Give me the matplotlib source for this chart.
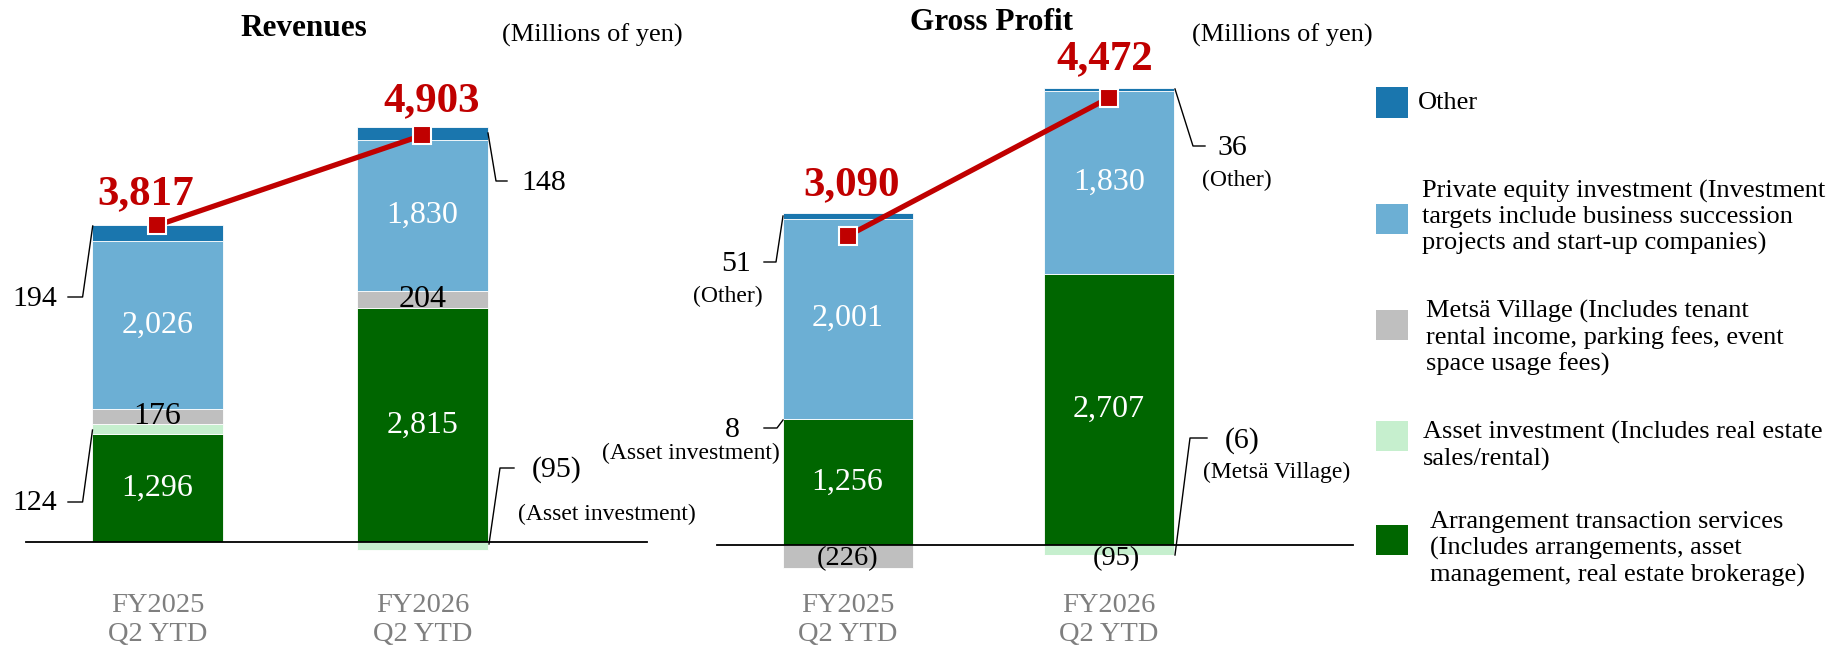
import matplotlib
matplotlib.use("Agg")
import matplotlib.pyplot as plt
from matplotlib.patches import Rectangle

plt.rcParams["font.family"] = ["Liberation Serif", "DejaVu Serif"]

# Data (millions of yen)
categories = ["FY2025\nQ2 YTD", "FY2026\nQ2 YTD"]
segment_names = ["Arrangement", "Asset investment", "Metsä Village", "Private equity", "Other"]

rev_arrangement = [1296, 2815]
rev_asset = [124, -95]
rev_metsa = [176, 204]
rev_pe = [2026, 1830]
rev_other = [194, 148]
rev_total = [3817, 4903]

gp_arrangement = [1256, 2707]
gp_asset = [8, -95]
gp_metsa = [-226, -6]
gp_pe = [2001, 1830]
gp_other = [51, 36]
gp_total = [3090, 4472]

legend_labels = [
    "Other",
    "Private equity investment (Investment\ntargets include business succession\nprojects and start-up companies)",
    "Metsä Village (Includes tenant\nrental income, parking fees, event\nspace usage fees)",
    "Asset investment (Includes real estate\nsales/rental)",
    "Arrangement transaction services\n(Includes arrangements, asset\nmanagement, real estate brokerage)",
]

# Colours
C_ARR = "#006600"
C_ASSET = "#C6EFCE"
C_METSA = "#BFBFBF"
C_PE = "#6CAFD4"
C_OTHER = "#1A76AE"
C_RED = "#C00000"
colors = [C_ARR, C_ASSET, C_METSA, C_PE, C_OTHER]
legend_colors = [C_OTHER, C_PE, C_METSA, C_ASSET, C_ARR]

W, H = 1829, 651
fig = plt.figure(figsize=(W / 100, H / 100), dpi=100)


def fmt(v):
    return f"{v:,}" if v >= 0 else f"({-v:,})"


class Panel:
    # maps reference pixels to data units for one chart
    def __init__(self, left, width, c0, step, base, scale, bar_px):
        self.c0, self.step, self.base, self.scale = c0, step, base, scale
        self.bw = bar_px / step
        self.ax = fig.add_axes([left / W, 0, width / W, 1])
        self.ax.set_xlim((left - c0) / step, (left + width - c0) / step)
        self.ax.set_ylim((base - H) / scale, base / scale)
        self.ax.axis("off")

    def x(self, px):
        return (px - self.c0) / self.step

    def y(self, py):
        return (self.base - py) / self.scale

    def text(self, px, py, s, **kw):
        self.ax.text(self.x(px), self.y(py), s, clip_on=False, **kw)

    def leader(self, pts):
        self.ax.plot([self.x(p[0]) for p in pts], [self.y(p[1]) for p in pts],
                     color="black", lw=1.0, clip_on=False, zorder=4)


def draw_stack(p, series, totals, inner):
    xs = range(len(categories))
    pos = [0] * len(categories)
    neg = [0] * len(categories)
    spans = []
    for vals, col in zip(series, colors):
        bottoms = []
        for i, v in enumerate(vals):
            if v >= 0:
                bottoms.append(pos[i]); pos[i] += v
            else:
                bottoms.append(neg[i]); neg[i] += v
        p.ax.bar(xs, vals, width=p.bw, bottom=bottoms, color=col,
                 edgecolor="white", linewidth=0.6, zorder=2)
        spans.append(bottoms)
    for si, i, c in inner:
        v = series[si][i]
        p.ax.text(i, spans[si][i] + v / 2, fmt(v), ha="center", va="center",
                  fontsize=23, color=c, zorder=4)
    p.ax.plot(list(xs), totals, color=C_RED, lw=3.8, marker="s", ms=13,
              mfc=C_RED, mec="white", mew=1.5, zorder=6)
    for i in range(len(categories)):
        p.ax.text(i, p.y(620), categories[i], ha="center", va="center",
                  fontsize=20.5, color="#7F7F7F", linespacing=1.2)


# Revenues
rev = Panel(0, 700, 157.5, 265, 541.7, 0.0829, 131)
draw_stack(rev, [rev_arrangement, rev_asset, rev_metsa, rev_pe, rev_other], rev_total,
           [(0, 0, "white"), (0, 1, "white"), (2, 0, "black"), (2, 1, "black"),
            (3, 0, "white"), (3, 1, "white")])
rev.ax.plot([rev.x(26), rev.x(647)], [0, 0], color="black", lw=1.3, zorder=3)
rev.text(304, 29, "Revenues", ha="center", va="center", fontsize=22.5, fontweight="bold")
rev.text(592, 35, "(Millions of yen)", ha="center", va="center", fontsize=19)
rev.ax.annotate(fmt(rev_total[0]), (0, rev_total[0]), xytext=(-12, 21), textcoords="offset pixels",
                ha="center", va="baseline", fontsize=31, fontweight="bold", color=C_RED)
rev.ax.annotate(fmt(rev_total[1]), (1, rev_total[1]), xytext=(9, 24), textcoords="offset pixels",
                ha="center", va="baseline", fontsize=31, fontweight="bold", color=C_RED)
rev.leader([(92.7, 226), (82.6, 297), (68, 297)])
rev.text(57, 299, fmt(rev_other[0]), ha="right", va="center", fontsize=21.5)
rev.leader([(92.5, 430), (82.6, 502), (68, 502)])
rev.text(57, 503, fmt(rev_asset[0]), ha="right", va="center", fontsize=21.5)
rev.leader([(488, 133), (496, 181), (507, 181)])
rev.text(521, 183, fmt(rev_other[1]), ha="left", va="center", fontsize=21.5)
rev.leader([(489, 544), (500, 468), (514, 468)])
rev.text(532, 470, fmt(rev_asset[1]), ha="left", va="center", fontsize=21.5)
rev.text(607, 514, "(Asset investment)", ha="center", va="center", fontsize=17)

# Gross profit
gp = Panel(700, 700, 847.5, 261.5, 545, 0.1, 130)
draw_stack(gp, [gp_arrangement, gp_asset, gp_metsa, gp_pe, gp_other], gp_total,
           [(0, 0, "white"), (0, 1, "white"), (3, 0, "white"), (3, 1, "white")])
gp.ax.plot([gp.x(717), gp.x(1353)], [0, 0], color="black", lw=1.3, zorder=3)
gp.text(847.5, 559, fmt(gp_metsa[0]), ha="center", va="center", fontsize=20.5, zorder=4)
gp.text(1116, 559, fmt(gp_asset[1]), ha="center", va="center", fontsize=20.5, zorder=4)
gp.text(991, 23, "Gross Profit", ha="center", va="center", fontsize=22.5, fontweight="bold")
gp.text(1282, 35, "(Millions of yen)", ha="center", va="center", fontsize=19)
gp.ax.annotate(fmt(gp_total[0]), (0, gp_total[0]), xytext=(4, 41), textcoords="offset pixels",
               ha="center", va="baseline", fontsize=31, fontweight="bold", color=C_RED)
gp.ax.annotate(fmt(gp_total[1]), (1, gp_total[1]), xytext=(-4, 29), textcoords="offset pixels",
               ha="center", va="baseline", fontsize=31, fontweight="bold", color=C_RED)
gp.leader([(783, 216), (776, 262), (764, 262)])
gp.text(751, 264, fmt(gp_other[0]), ha="right", va="center", fontsize=21.5)
gp.text(728, 296, "(Other)", ha="center", va="center", fontsize=17)
gp.leader([(783, 420), (777, 428), (764, 428)])
gp.text(740, 430, fmt(gp_asset[0]), ha="right", va="center", fontsize=21.5)
gp.text(691, 453, "(Asset investment)", ha="center", va="center", fontsize=17)
gp.leader([(1175, 89), (1193, 146), (1205, 146)])
gp.text(1217, 148, fmt(gp_other[1]), ha="left", va="center", fontsize=21.5)
gp.text(1237, 180, "(Other)", ha="center", va="center", fontsize=17)
gp.leader([(1175, 555), (1190, 438), (1207, 438)])
gp.text(1242, 441, fmt(gp_metsa[1]), ha="center", va="center", fontsize=21.5)
gp.text(1277, 472, "(Metsä Village)", ha="center", va="center", fontsize=17)

# Legend
sw_top = [87.5, 204, 310, 421, 525]
txt_mid = [103, 217, 338, 446, 549]
txt_left = [1418, 1422, 1426, 1423, 1430]
for lab, col, st, tm, tl in zip(legend_labels, legend_colors, sw_top, txt_mid, txt_left):
    fig.patches.append(Rectangle((1376 / W, 1 - (st + 30) / H), 32 / W, 30 / H,
                                 transform=fig.transFigure, facecolor=col, edgecolor="none"))
    fig.text(tl / W, 1 - tm / H, lab, ha="left", va="center", fontsize=19, linespacing=1.2)

fig.savefig("out.png", dpi=100, facecolor="white")
